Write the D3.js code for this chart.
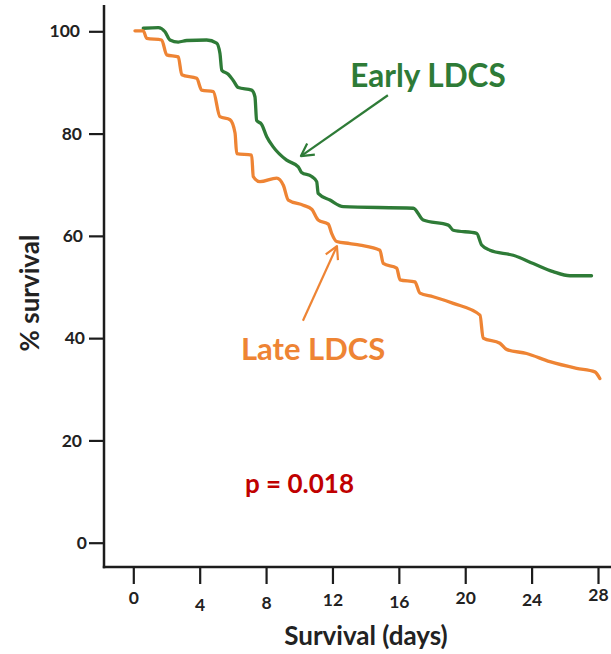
<!DOCTYPE html>
<html><head><meta charset="utf-8">
<script src="https://cdn.jsdelivr.net/npm/d3@7"></script>
<style>body{margin:0;background:#fff}</style>
</head><body>
<svg id="chart" width="611" height="654"></svg>
<script>
const xTicks = [0,4,8,12,16,20,24,28];
const yTicks = [0,20,40,60,80,100];
const earlyDays = [0.6,1.51,1.91,2.21,2.71,3.22,4.42,5.02,5.22,5.33,5.72,6.02,6.33,7.13,7.33,7.43,7.73,8.04,8.43,9.24,9.94,10.14,10.75,11.05,11.14,11.85,12.65,16.87,17.47,18.98,19.28,20.69,20.99,21.49,22.89,24.1,25.3,26.31,27.61];
const earlyVals = [100.6,100.7,99.9,98.3,97.9,98.2,98.3,97.7,95.7,92.4,91.6,90.4,89.0,88.5,87.2,82.6,81.8,79.4,77.4,74.8,73.5,72.4,71.6,70.6,68.3,67.0,65.7,65.4,63.1,62.1,61.1,60.5,58.2,57.2,56.2,54.6,53.0,52.2,52.2];
const lateDays = [0.1,0.6,0.81,1.71,2.01,2.71,2.92,3.82,4.12,4.82,5.22,5.83,6.13,6.23,7.13,7.23,7.63,8.64,9.04,9.34,10.24,10.75,11.14,11.75,11.95,12.25,13.05,13.66,14.86,15.06,15.87,16.07,16.97,17.27,18.07,19.28,20.89,21.08,22.09,22.49,23.7,25.1,26.71,27.81,28.11];
const lateVals = [100.1,100.1,98.6,98.3,95.4,95.0,91.5,90.8,88.5,88.2,83.3,82.7,80.1,76.1,75.8,71.6,70.6,71.3,69.9,67.0,66.0,65.2,63.1,62.3,60.5,58.9,58.5,58.2,57.2,54.6,53.7,51.4,51.0,48.8,48.1,46.8,44.5,40.0,39.0,37.8,37.0,35.4,34.1,33.4,32.1];
const seriesNames = ["Early LDCS","Late LDCS"];
const pText = "p = 0.018";
const xTitle = "Survival (days)";
const yTitle = "% survival";

const svg = d3.select("#chart");
const font = "Lato, 'Open Sans', sans-serif";
const green = "#2E7B37", orange = "#EE8434", red = "#C00000", axisCol = "#1c1c1c";

const x = d3.scaleLinear().domain([0,28]).range([133.3,598]);
const y = d3.scaleLinear().domain([0,100]).range([542.7,31.3]);
const axisX0 = 104, axisY0 = 567;

// axis lines
svg.append("line").attr("x1",axisX0).attr("x2",axisX0).attr("y1",5).attr("y2",axisY0+1.2)
  .attr("stroke",axisCol).attr("stroke-width",2.5);
svg.append("line").attr("x1",axisX0-1.2).attr("x2",611).attr("y1",axisY0).attr("y2",axisY0)
  .attr("stroke",axisCol).attr("stroke-width",2.5);

// y axis ticks
const yAxis = svg.append("g").attr("transform",`translate(${axisX0},0)`)
  .call(d3.axisLeft(y).tickValues(yTicks).tickSize(15).tickSizeOuter(0).tickPadding(6));
yAxis.select(".domain").remove();
yAxis.selectAll(".tick line").attr("stroke",axisCol).attr("stroke-width",2.2);
const yDx = [4,-1,2,0,-1,-3];
yAxis.selectAll(".tick text").attr("font-family",font).attr("font-weight","bold")
  .attr("font-size",17.5).attr("fill","#222").attr("dx",(d,i)=>yDx[i]);

// x axis ticks
const xAxis = svg.append("g").attr("transform",`translate(0,${axisY0})`)
  .call(d3.axisBottom(x).tickValues(xTicks).tickSize(17).tickSizeOuter(0).tickPadding(0));
xAxis.select(".domain").remove();
xAxis.selectAll(".tick line").attr("stroke",axisCol).attr("stroke-width",2.2);
const xLabelY = [598,605,603,600,602,598,600,595];
xAxis.selectAll(".tick text").attr("font-family",font).attr("font-weight","bold")
  .attr("font-size",17.5).attr("fill","#222")
  .attr("y",(d,i)=>xLabelY[i]-axisY0).attr("dy","0.35em");

// titles
svg.append("text").attr("x",366).attr("y",636).attr("dy","0.35em").attr("text-anchor","middle")
  .attr("font-family",font).attr("font-weight","bold").attr("font-size",26).attr("fill","#222").text(xTitle);
svg.append("text").attr("transform","translate(30,293) rotate(-90)").attr("dy","0.35em").attr("text-anchor","middle")
  .attr("font-family",font).attr("font-weight","bold").attr("font-size",26).attr("fill","#222").text(yTitle);

// curves
const line = d3.line().x(d=>x(d[0])).y(d=>y(d[1])).curve(d3.curveMonotoneX);
const early = earlyDays.map((d,i)=>[d,earlyVals[i]]);
const late = lateDays.map((d,i)=>[d,lateVals[i]]);
svg.append("path").datum(early).attr("d",line).attr("fill","none").attr("stroke",green)
  .attr("stroke-width",3.3).attr("stroke-linejoin","round").attr("stroke-linecap","round");
svg.append("path").datum(late).attr("d",line).attr("fill","none").attr("stroke",orange)
  .attr("stroke-width",3.3).attr("stroke-linejoin","round").attr("stroke-linecap","round");

// arrows (annotation positions in data units)
function arrow(from,to,color){
  const x1=x(from[0]),y1=y(from[1]),x2=x(to[0]),y2=y(to[1]);
  const ang=Math.atan2(y2-y1,x2-x1), L=14, A=0.5;
  svg.append("line").attr("x1",x1).attr("y1",y1).attr("x2",x2).attr("y2",y2)
    .attr("stroke",color).attr("stroke-width",2.2);
  const p1=[x2-L*Math.cos(ang-A),y2-L*Math.sin(ang-A)], p2=[x2-L*Math.cos(ang+A),y2-L*Math.sin(ang+A)];
  svg.append("path").attr("d",`M${p1}L${x2},${y2}L${p2}`).attr("fill","none")
    .attr("stroke",color).attr("stroke-width",2.2).attr("stroke-linejoin","round");
}
arrow([15.34,87.5],[10.1,75.6],green);
arrow([10.22,43.4],[12.27,58.0],orange);

// labels
svg.append("text").attr("x",x(13.07)).attr("y",y(89.2)).attr("font-family",font).attr("font-weight","bold")
  .attr("font-size",31.5).attr("fill",green).text(seriesNames[0]);
svg.append("text").attr("x",x(6.49)).attr("y",y(35.7)).attr("font-family",font).attr("font-weight","bold")
  .attr("font-size",31).attr("fill",orange).text(seriesNames[1]);
svg.append("text").attr("x",x(6.73)).attr("y",y(9.7)).attr("font-family",font).attr("font-weight","bold")
  .attr("font-size",26).attr("fill",red).text(pText);
</script>
</body></html>
